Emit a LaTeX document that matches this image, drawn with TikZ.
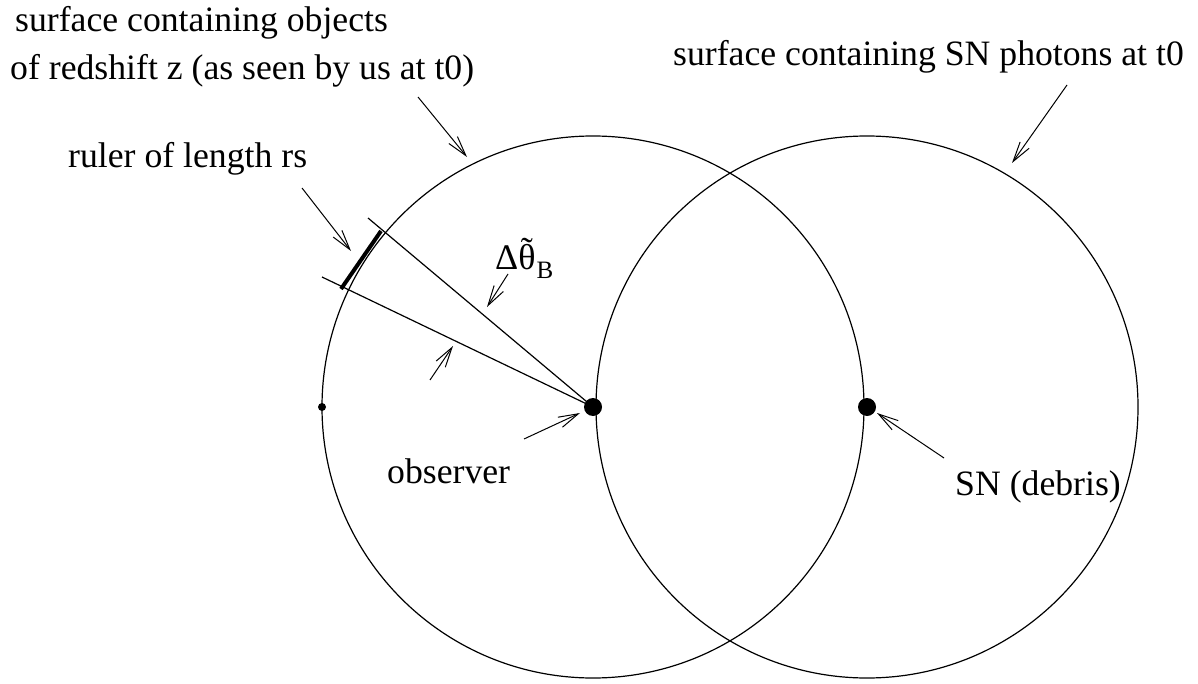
\documentclass[tikz,border=0pt]{standalone}
\usepackage{fontspec}
\setmainfont{Liberation Serif}
\usetikzlibrary{arrows.meta}
\begin{document}
\begin{tikzpicture}[x=1pt,y=-1pt,
  lbl/.style={font=\fontsize{35.7}{40}\selectfont, inner sep=0pt, anchor=base west},
  ptr/.style={line width=1pt, -{Straight Barb[length=20pt,width=11pt]}},
  thin/.style={line width=1.2pt},
  dotbig/.style={circle, fill=black, minimum size=18pt, inner sep=0pt},
  dotsmall/.style={circle, fill=black, minimum size=8pt, inner sep=0pt}]
\useasboundingbox (0,0) rectangle (1198,684);
% circles
\node[circle, draw, line width=1.2pt, minimum size=542pt, inner sep=0pt] (lc) at (593,407) {};
\node[circle, draw, line width=1.2pt, minimum size=542pt, inner sep=0pt] (rc) at (867,407) {};
% dots
\node[dotbig] (obs) at (593,407) {};
\node[dotbig] (sn) at (867,407) {};
\node[dotsmall] (pt) at (322,407) {};
% radial lines
\coordinate (u) at (368,218);
\coordinate (l) at (322,277);
\draw[thin] (u) -- (obs.center);
\draw[thin] (l) -- (obs.center);
% ruler
\coordinate (r1) at (341,289);
\coordinate (r2) at (381,231);
\draw[line width=4pt] (r1) -- (r2);
% labels
\node[lbl] (t1) at (15,32) {surface containing objects};
\node[lbl] (t2) at (10,80) {of redshift z (as seen by us at t0)};
\node[lbl] (t3) at (673,66) {surface containing SN photons at t0};
\node[lbl] (t4) at (68,168) {ruler of length rs};
\node[lbl, font=\fontsize{36}{40}\selectfont] (t5) at (495,270)
  {Δ\ooalign{θ\cr\hidewidth\raisebox{0.2em}{˜}\hidewidth\cr}\kern1pt\raisebox{-0.24em}{\fontsize{25}{28}\selectfont B}};
\node[lbl] (t6) at (387,483) {observer};
\node[lbl] (t7) at (955,495) {SN (debris)};
% pointers
\coordinate (a1s) at (418,97);  \coordinate (a1e) at (467,157);
\coordinate (a2s) at (1067,85); \coordinate (a2e) at (1012,163);
\coordinate (a3s) at (302,188); \coordinate (a3e) at (351,251);
\coordinate (a4s) at (508,274); \coordinate (a4e) at (487,307);
\coordinate (a5s) at (430,380); \coordinate (a5e) at (453,346);
\coordinate (a6s) at (524,439); \coordinate (a6e) at (580,413);
\coordinate (a7s) at (944,458); \coordinate (a7e) at (877,413);
\draw[ptr] (a1s) -- (a1e);
\draw[ptr] (a2s) -- (a2e);
\draw[ptr] (a3s) -- (a3e);
\draw[ptr] (a4s) -- (a4e);
\draw[ptr] (a5s) -- (a5e);
\draw[ptr] (a6s) -- (a6e);
\draw[ptr] (a7s) -- (a7e);
\end{tikzpicture}
\end{document}
